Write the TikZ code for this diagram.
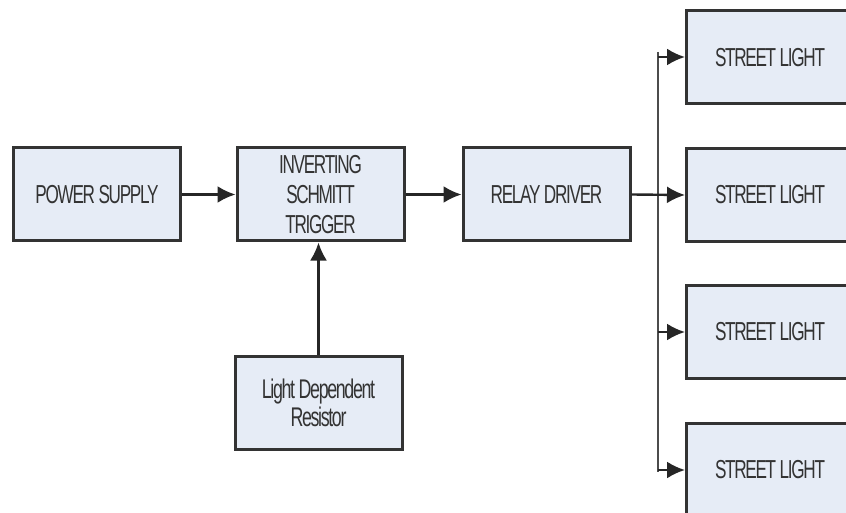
\documentclass[tikz,border=0pt]{standalone}
\usepackage{fontspec}
\setmainfont{Liberation Sans}[FakeStretch=0.66,LetterSpace=-5]
\usetikzlibrary{arrows.meta}
\definecolor{boxfill}{HTML}{E6ECF6}
\definecolor{boxline}{HTML}{333333}
\begin{document}
\begin{tikzpicture}[x=1pt,y=-1pt,
  blk/.style={draw=boxline,line width=3pt,fill=boxfill,minimum width=167pt,minimum height=93pt,
    inner sep=0pt,align=center,font=\fontsize{26}{30}\selectfont,text=black!80},
  conn/.style={draw=black!85,line width=2.4pt,-{Latex[length=18pt,width=17pt]}},
  bus/.style={draw=black!70,line width=2.4pt}]
\useasboundingbox (0,0) rectangle (846,513);
\node[blk] (ps) at (97,194.5) {POWER SUPPLY};
\node[blk] (st) at (320.5,194.5) {INVERTING\\SCHMITT\\TRIGGER};
\node[blk,font=\fontsize{27}{28}\selectfont] (ldr) at (318.5,402.5) {Light Dependent\\Resistor};
\node[blk] (rd) at (546.5,194.5) {RELAY DRIVER};
\node[blk] (l1) at (770,57.5) {STREET LIGHT};
\node[blk] (l2) at (770,195) {STREET LIGHT};
\node[blk] (l3) at (770,331.5) {STREET LIGHT};
\node[blk] (l4) at (770,470) {STREET LIGHT};
\coordinate (btop) at (658,52);
\coordinate (bbot) at (658,472);
\coordinate (b1) at (658,57);
\coordinate (b3) at (658,332);
\coordinate (b4) at (658,470);
\draw[bus] (btop) -- (bbot);
\draw[conn] (ps.east) -- (st.west);
\draw[conn] (st.east) -- (rd.west);
\draw[conn] (ldr.north) -- (ldr.north |- st.south);
\draw[conn] (rd.east) -- (l2.west);
\draw[conn] (b1) -- (b1 -| l1.west);
\draw[conn] (b3) -- (b3 -| l3.west);
\draw[conn] (b4) -- (b4 -| l4.west);
\end{tikzpicture}
\end{document}
